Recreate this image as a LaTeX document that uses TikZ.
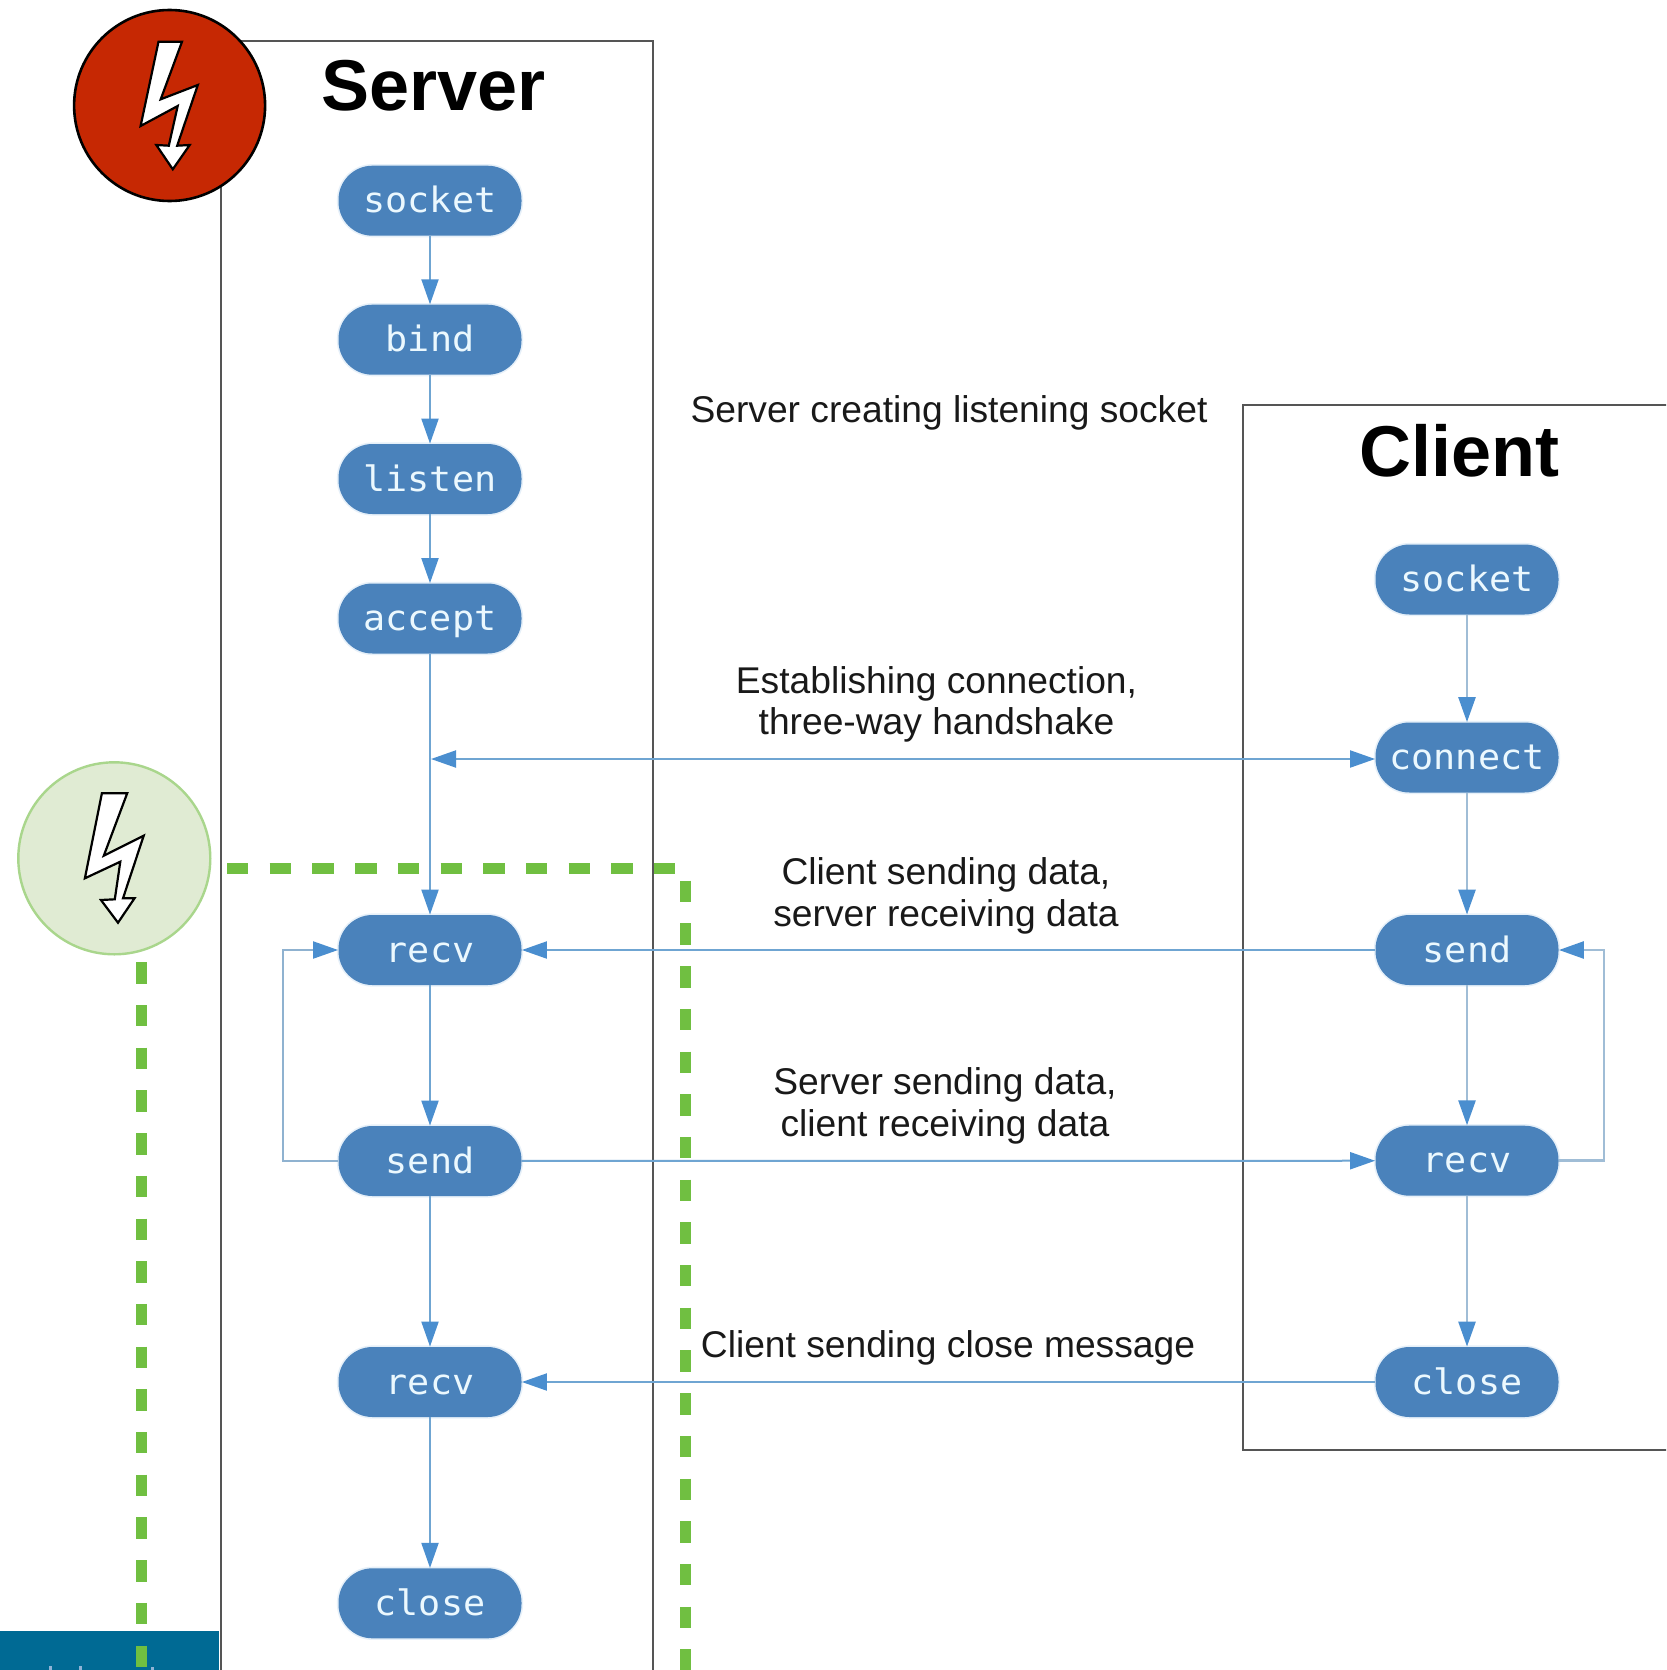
\documentclass[tikz,border=0pt]{standalone}
\usepackage{fontspec}
\setmainfont{Liberation Sans}
\newfontfamily\pillfont[FakeStretch=1.05]{DejaVu Sans Mono}
\usetikzlibrary{arrows.meta,calc}
\definecolor{pillblue}{HTML}{4A82BB}
\definecolor{linkblue}{HTML}{6FA5D2}
\definecolor{loopblue}{HTML}{8FB2D0}
\definecolor{softblue}{HTML}{A0BDD6}
\definecolor{tipblue}{HTML}{4A8ECF}
\definecolor{pillglow}{HTML}{E6F0F9}
\definecolor{boxgrey}{HTML}{555555}
\definecolor{dashgreen}{HTML}{70BF41}
\definecolor{alarmred}{HTML}{C62803}
\definecolor{palegreen}{HTML}{E0EBD3}
\definecolor{ringgreen}{HTML}{A9D68C}
\definecolor{tealblock}{HTML}{006A94}
\definecolor{tickblue}{HTML}{8FB4D6}
\tikzset{
  pill/.style={draw=none, fill=pillblue, text=white!92!cyan, font=\pillfont\fontsize{17.5}{20}\selectfont,
    rectangle, rounded corners=17pt, inner sep=0pt, text height=12pt, text depth=0pt,
    minimum width=91.5pt, minimum height=35pt,
    preaction={draw=pillglow, line width=1.6pt}},
  tiphead/.style={},
  link/.style={draw=linkblue, line width=1pt, -{Triangle[length=12.5pt,width=8.5pt,color=tipblue]}},
  softlink/.style={draw=softblue, line width=1.3pt, -{Triangle[length=12.5pt,width=8.5pt,color=tipblue]}},
  loopback/.style={draw=loopblue, line width=1pt, -{Triangle[length=12.5pt,width=8.5pt,color=tipblue]}},
  twoway/.style={draw=linkblue, line width=1pt, {Triangle[length=12.5pt,width=8.5pt,color=tipblue]}-{Triangle[length=12.5pt,width=8.5pt,color=tipblue]}},
  framebox/.style={draw=boxgrey, line width=1pt},
  greendash/.style={draw=dashgreen, line width=5.5pt, dash pattern=on 10.7pt off 10.65pt},
  title/.style={font=\bfseries\fontsize{36}{40}\selectfont, text=black, anchor=base},
  caption/.style={font=\fontsize{18.6}{20.8}\selectfont, align=center, text=black!90},
  bolt/.style={draw=black, fill=white, line width=1.1pt, line join=miter}
}
\begin{document}
\begin{tikzpicture}[x=0.5pt,y=-0.5pt]
\useasboundingbox (0,0) rectangle (1666,1670);
\clip (0,0) rectangle (1666,1670);
\fill[white] (0,0) rectangle (1666,1670);
% frames
\draw[framebox] (221,1690) -- (221,41.3) -- (652.5,41.3) -- (652.5,1690);
\draw[framebox] (1690,405) -- (1243,405) -- (1243,1450) -- (1690,1450);
% titles
\node[title] (servertitle) at (433.5,110) {Server};
\node[title] (clienttitle) at (1459,476) {Client};
% server pills
\node[pill] (ssocket) at (430,200.7) {socket};
\node[pill] (sbind) at (430,339.7) {bind};
\node[pill] (slisten) at (430,479) {listen};
\node[pill] (saccept) at (430,618.5) {accept};
\node[pill] (srecv) at (430,950) {recv};
\node[pill] (ssend) at (430,1161) {send};
\node[pill] (srecvb) at (430,1382) {recv};
\node[pill] (sclose) at (430,1603.3) {close};
% client pills
\node[pill] (csocket) at (1467,579.5) {socket};
\node[pill] (cconnect) at (1467,757.5) {connect};
\node[pill] (csend) at (1467,950) {send};
\node[pill] (crecv) at (1467,1160.7) {recv};
\node[pill] (cclose) at (1467,1382) {close};
% server links
\draw[link] (ssocket) -- (sbind);
\draw[link] (sbind) -- (slisten);
\draw[link] (slisten) -- (saccept);
\draw[link] (saccept) -- (srecv);
\draw[link] (srecv) -- (ssend);
\draw[link] (ssend) -- (srecvb);
\draw[link] (srecvb) -- (sclose);
% client links
\draw[softlink] (csocket) -- (cconnect);
\draw[softlink] (cconnect) -- (csend);
\draw[softlink] (csend) -- (crecv);
\draw[softlink] (crecv) -- (cclose);
% across
\coordinate (hs) at (431,759);
\draw[twoway] (hs) -- (cconnect.west |- hs);
\draw[link] (csend) -- (srecv);
\draw[link] (ssend) -- (crecv);
\draw[link] (cclose) -- (srecvb);
% loops
\coordinate (lloopa) at (283.3,1161);
\coordinate (lloopb) at (283.3,950);
\coordinate (rloopa) at (1604,1160.7);
\coordinate (rloopb) at (1604,950);
\draw[loopback] (ssend) -- (lloopa) -- (lloopb) -- (srecv);
\draw[softlink] (crecv) -- (rloopa) -- (rloopb) -- (csend);
% captions
\node[caption] (c1) at (949,413) {Server creating listening socket};
\node[caption] (c2) at (936.5,704.5) {Establishing connection,\\three-way handshake};
\node[caption] (c3) at (946,896) {Client sending data,\\server receiving data};
\node[caption] (c4) at (945,1106) {Server sending data,\\client receiving data};
\node[caption] (c5) at (948,1348) {Client sending close message};
% teal block
\fill[tealblock] (0,1631) rectangle (218.5,1680);
\fill[tickblue] (49,1666) rectangle (52,1670);
\fill[tickblue] (78.5,1666) rectangle (81.5,1670);
\fill[tickblue] (150.5,1667) rectangle (153.5,1670);
% green dashes
\draw[greendash] (227,868.3) -- (676,868.3);
\draw[greendash] (685,880.7) -- (685,1690);
\draw[greendash] (141.9,962.3) -- (141.9,1690);
% alarm circles
\node[circle, draw=black, line width=1.3pt, fill=alarmred, minimum size=95.5pt, inner sep=0pt] (alarm) at (169.6,105.5) {};
\draw[bolt] (158.5,41.7) -- (182,41.7) -- (160.7,99.3) -- (197.8,85) -- (177.2,145.7) -- (189.7,145) -- (172.8,169.3) -- (156.3,145) -- (168.8,145.7) -- (177.7,106) -- (140.6,126) -- cycle;
\node[circle, draw=ringgreen, line width=1.2pt, fill=palegreen, minimum size=96pt, inner sep=0pt] (safe) at (114.3,858.3) {};
\draw[bolt] (101.9,793.3) -- (127.2,793.3) -- (103.8,855.7) -- (143.7,835.7) -- (123,898.3) -- (134.5,898.3) -- (118,922.7) -- (101,900) -- (114.8,899.3) -- (120.3,861.7) -- (84.9,878.3) -- cycle;
\end{tikzpicture}
\end{document}
